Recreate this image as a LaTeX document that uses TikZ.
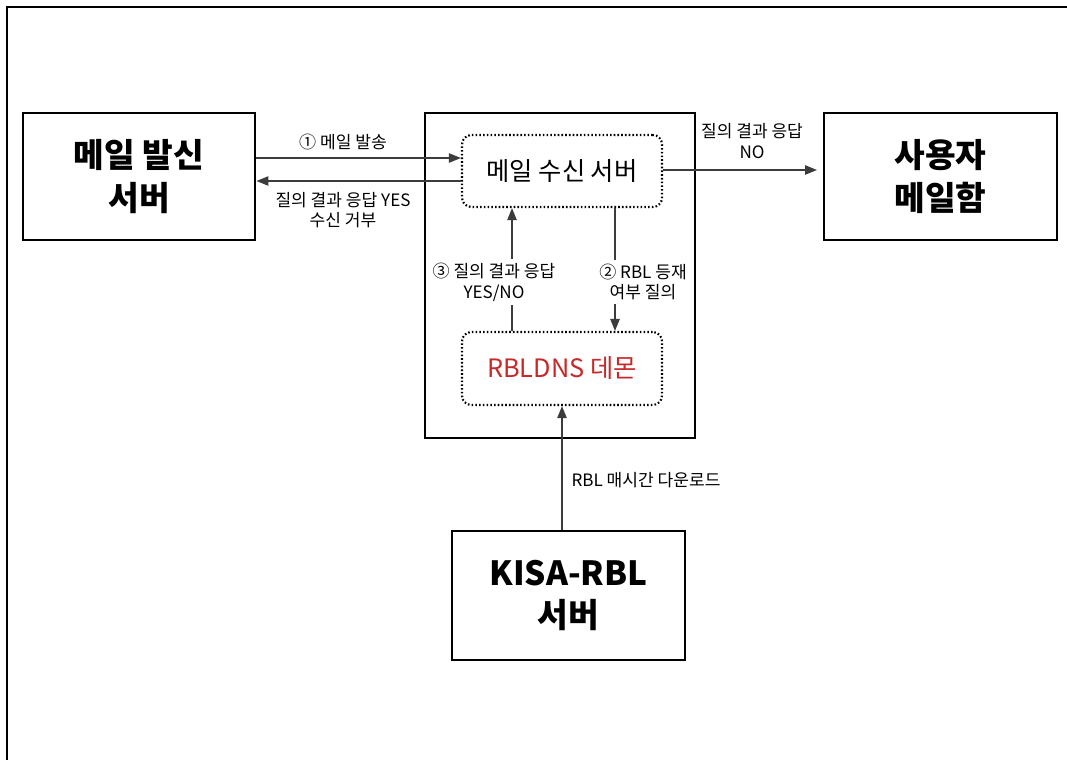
\documentclass[tikz,border=0pt]{standalone}
\usepackage{fontspec}
\setmainfont{Noto Sans CJK KR}
\usetikzlibrary{arrows.meta}
\definecolor{redtxt}{RGB}{200,40,40}
\definecolor{linegray}{RGB}{60,60,60}
\begin{document}
\begin{tikzpicture}[x=0.75pt,y=-0.75pt,
  bigbox/.style={draw=black,line width=2.2pt,inner sep=0pt,align=center,font=\fontsize{25}{32}\selectfont\bfseries},
  outerbox/.style={draw=black,line width=2pt,inner sep=0pt},
  dotbox/.style={draw=black,line width=1.6pt,dash pattern=on 1.2pt off 1.6pt,rounded corners=7pt,inner sep=0pt,font=\fontsize{19}{22}\selectfont},
  lbl/.style={font=\fontsize{12.8}{15.5}\selectfont,align=center,inner sep=1pt},
  conn/.style={draw=linegray,line width=1.1pt,-{Triangle[length=9pt,width=7pt]}},
  plain/.style={draw=linegray,line width=1.1pt}]
\useasboundingbox (0,0) rectangle (1067,760);
\draw[line width=1.2pt] (7,760) -- (7,7) -- (1067,7);
% boxes
\node[bigbox,minimum width=174pt,minimum height=95.25pt] (snd) at (139,176.5) {메일 발신\\서버};
\node[outerbox,minimum width=202.5pt,minimum height=243.75pt] (outer) at (560,275.5) {};
\node[dotbox,minimum width=150pt,minimum height=54pt] (rec) at (562,171) {메일 수신 서버};
\node[dotbox,minimum width=150pt,minimum height=54.75pt,text=redtxt] (rbl) at (562,368.5) {RBLDNS 데몬};
\node[bigbox,minimum width=174.75pt,minimum height=95.25pt] (usr) at (940.5,176.5) {사용자\\메일함};
\node[bigbox,minimum width=174.75pt,minimum height=96.75pt] (kisa) at (568.5,595.5) {KISA-RBL\\서버};
% horizontal arrows
\coordinate (a1s) at (snd.east |- 0,158);
\coordinate (a1e) at (rec.west |- 0,158);
\draw[conn] (a1s) -- (a1e);
\node[lbl] (l1) at (343,142) {① 메일 발송};
\coordinate (a2s) at (rec.west |- 0,181);
\coordinate (a2e) at (snd.east |- 0,181);
\draw[conn] (a2s) -- (a2e);
\node[lbl] (l2) at (343,210) {질의 결과 응답 YES\\수신 거부};
\coordinate (a3s) at (rec.east |- 0,170);
\coordinate (a3e) at (817,170);
\draw[conn] (a3s) -- (a3e);
\node[lbl] (l3) at (752,141) {질의 결과 응답\\NO};
% vertical arrows
\coordinate (v3s) at (512,0 |- rbl.north);
\coordinate (v3e) at (512,0 |- rec.south);
\draw[conn] (v3s) -- (v3e);
\node[lbl,fill=white,inner sep=3pt] (l4) at (494,282) {③ 질의 결과 응답\\YES/NO};
\coordinate (v2s) at (615,0 |- rec.south);
\coordinate (v2e) at (615,0 |- rbl.north);
\draw[conn] (v2s) -- (v2e);
\node[lbl,fill=white,inner sep=3pt] (l5) at (643,282) {② RBL 등재\\여부 질의};
\coordinate (v1s) at (562,0 |- kisa.north);
\draw[conn] (v1s) -- (rbl.south);
\node[lbl,anchor=west] (l6) at (570,480) {RBL 매시간 다운로드};
\end{tikzpicture}
\end{document}
